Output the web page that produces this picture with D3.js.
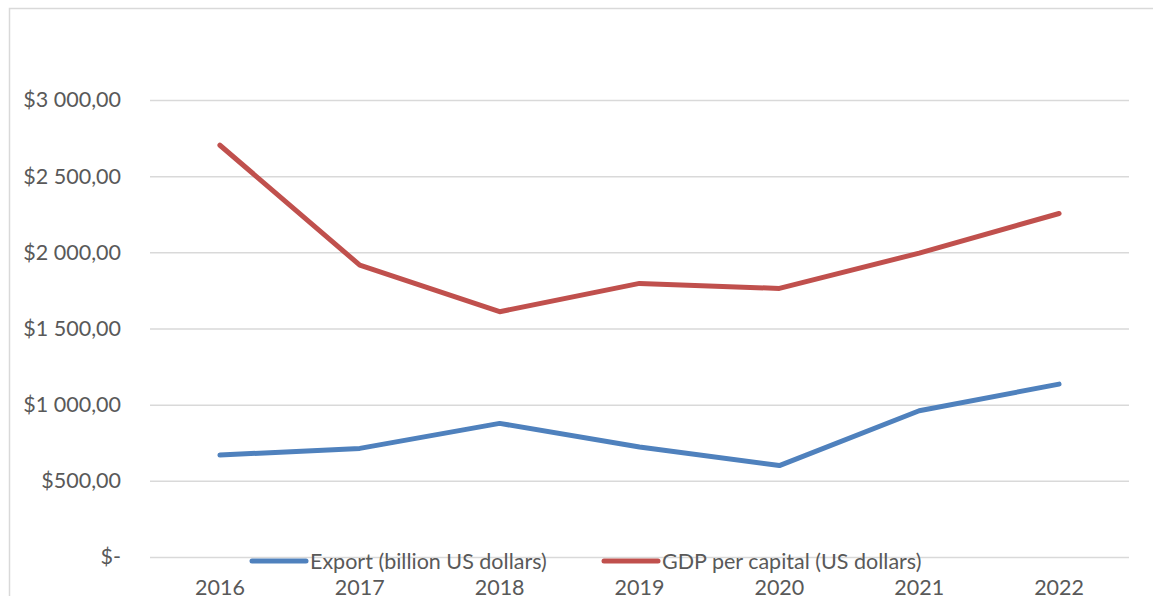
<!DOCTYPE html>
<html>
<head>
<meta charset="utf-8">
<script src="https://cdn.jsdelivr.net/npm/d3@7"></script>
<style>
  body { margin: 0; background: #fff; }
  text { font-family: Lato, "Open Sans", sans-serif; fill: #595959; }
</style>
</head>
<body>
<svg id="chart"></svg>
<script>
const years = ["2016", "2017", "2018", "2019", "2020", "2021", "2022"];
const exportValues = [669, 713, 877, 722, 600, 960, 1135];
const gdpValues = [2703, 1916, 1610, 1796, 1763, 1995, 2255];
const yTicks = [0, 500, 1000, 1500, 2000, 2500, 3000];
const seriesNames = ["Export (billion US dollars)", "GDP per capital (US dollars)"];

function makeLineChart() {
    let w = 1153;
    let h = 596;
    let fontSize = '21.5px';

    let svg = d3.select('#chart')
        .attr('width', w)
        .attr('height', h);

    // outer chart frame
    svg.append('rect')
        .attr('x', 9.5).attr('y', 8.5)
        .attr('width', w + 20).attr('height', h + 20)
        .attr('fill', 'none')
        .attr('stroke', '#d9d9d9')
        .attr('stroke-width', 1.5);

    let xScale = d3.scaleBand()
        .domain(years)
        .range([150, 1129]);

    let yScale = d3.scaleLinear()
        .domain([0, 3000])
        .range([557, 100]);

    let fmt = v => v === 0 ? '$-' : '$' + d3.format(',.2f')(v).replace(/,/g, ' ').replace('.', ',');

    let yAxis = d3.axisLeft(yScale)
        .tickValues(yTicks)
        .tickSize(-(1129 - 150))
        .tickPadding(29)
        .tickFormat(fmt);
    let yAxisGroup = svg.append('g')
        .attr('transform', 'translate(150, 0)')
        .call(yAxis);
    yAxisGroup.select('.domain').remove();
    yAxisGroup.selectAll('.tick line')
        .attr('stroke', '#d9d9d9')
        .attr('stroke-width', 1.5);
    yAxisGroup.selectAll('.tick text')
        .style('font-size', fontSize)
        .style('font-family', 'Lato, "Open Sans", sans-serif')
        .attr('fill', '#595959');

    let xAxis = d3.axisBottom(xScale).tickSize(0).tickPadding(23);
    let xAxisGroup = svg.append('g')
        .attr('transform', 'translate(0, 557)')
        .call(xAxis);
    xAxisGroup.select('.domain').remove();
    xAxisGroup.selectAll('.tick text')
        .style('font-size', fontSize)
        .style('font-family', 'Lato, "Open Sans", sans-serif')
        .attr('fill', '#595959');

    let line = d3.line()
        .x((d, i) => xScale(years[i]) + xScale.bandwidth() / 2)
        .y(d => yScale(d));

    let colors = ['#4f81bd', '#c0504d'];
    [exportValues, gdpValues].forEach((vals, k) => {
        svg.append('path')
            .datum(vals)
            .attr('d', line)
            .attr('fill', 'none')
            .attr('stroke', colors[k])
            .attr('stroke-width', 5)
            .attr('stroke-linecap', 'round')
            .attr('stroke-linejoin', 'round');
    });

    // legend
    let legendX = [252, 604];
    seriesNames.forEach((name, k) => {
        let g = svg.append('g').attr('transform', `translate(${legendX[k]}, 561)`);
        g.append('line')
            .attr('x1', 0).attr('x2', 54)
            .attr('stroke', colors[k])
            .attr('stroke-width', 5)
            .attr('stroke-linecap', 'round');
        g.append('text')
            .attr('x', 58)
            .attr('dy', '0.35em')
            .style('font-size', fontSize)
            .text(name);
    });
}

window.onload = function() {
    makeLineChart();
}
</script>
</body>
</html>
